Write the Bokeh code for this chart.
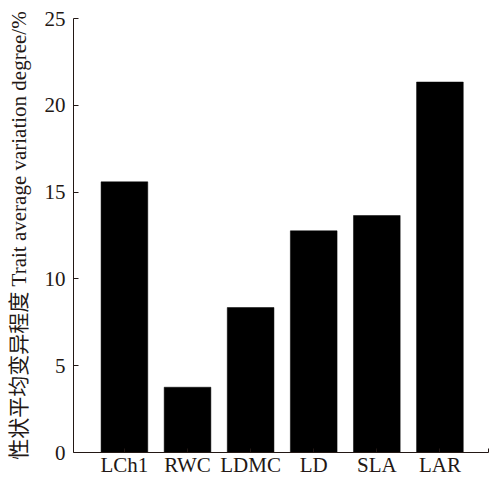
from bokeh.plotting import figure
from bokeh.models import Range1d, FixedTicker
from bokeh.embed import file_html
from bokeh.resources import INLINE

categories = ["LCh1", "RWC", "LDMC", "LD", "SLA", "LAR"]
values = [15.59, 3.76, 8.35, 12.77, 13.65, 21.34]
y_ticks = [0, 5, 10, 15, 20, 25]

positions = list(range(len(categories)))
x_end = 5.77

p = figure(width=494, height=479, output_backend="svg", toolbar_location=None,
           x_range=Range1d(-0.807, x_end), y_range=Range1d(0, 25),
           min_border_left=73, min_border_right=6, min_border_top=18, min_border_bottom=24)
p.outline_line_color = None
p.xgrid.visible = False
p.ygrid.visible = False
p.background_fill_color = "white"

p.vbar(x=positions, top=values, width=0.74, bottom=0, fill_color="black", line_color="black", line_width=0.5)

font = "Liberation Serif, Noto Sans CJK SC"
axc = "#231815"

p.xaxis.ticker = FixedTicker(ticks=positions + [x_end])
overrides = {i: c for i, c in enumerate(categories)}
overrides[x_end] = ""
p.xaxis.major_label_overrides = overrides
p.xaxis.minor_tick_line_color = None
p.xaxis.major_tick_in = 4
p.xaxis.major_tick_out = 0
p.xaxis.major_label_standoff = 0
p.xaxis.major_label_text_font = font
p.xaxis.major_label_text_font_size = "21px"
p.xaxis.major_label_text_color = axc
p.xaxis.axis_line_color = axc
p.xaxis.major_tick_line_color = axc

p.yaxis.ticker = FixedTicker(ticks=y_ticks)
p.yaxis.minor_tick_line_color = None
p.yaxis.major_tick_in = 5
p.yaxis.major_tick_out = 0
p.yaxis.major_label_standoff = 8
p.yaxis.major_label_text_font = font
p.yaxis.major_label_text_font_size = "21px"
p.yaxis.major_label_text_color = axc
p.yaxis.axis_line_color = axc
p.yaxis.major_tick_line_color = axc
p.yaxis.axis_label = "性状平均变异程度 Trait average variation degree/%"
p.yaxis.axis_label_text_font = font
p.yaxis.axis_label_text_font_size = "21px"
p.yaxis.axis_label_text_font_style = "normal"
p.yaxis.axis_label_text_color = axc
p.yaxis.axis_label_standoff = 11

open("out.html", "w").write(file_html(p, INLINE))
